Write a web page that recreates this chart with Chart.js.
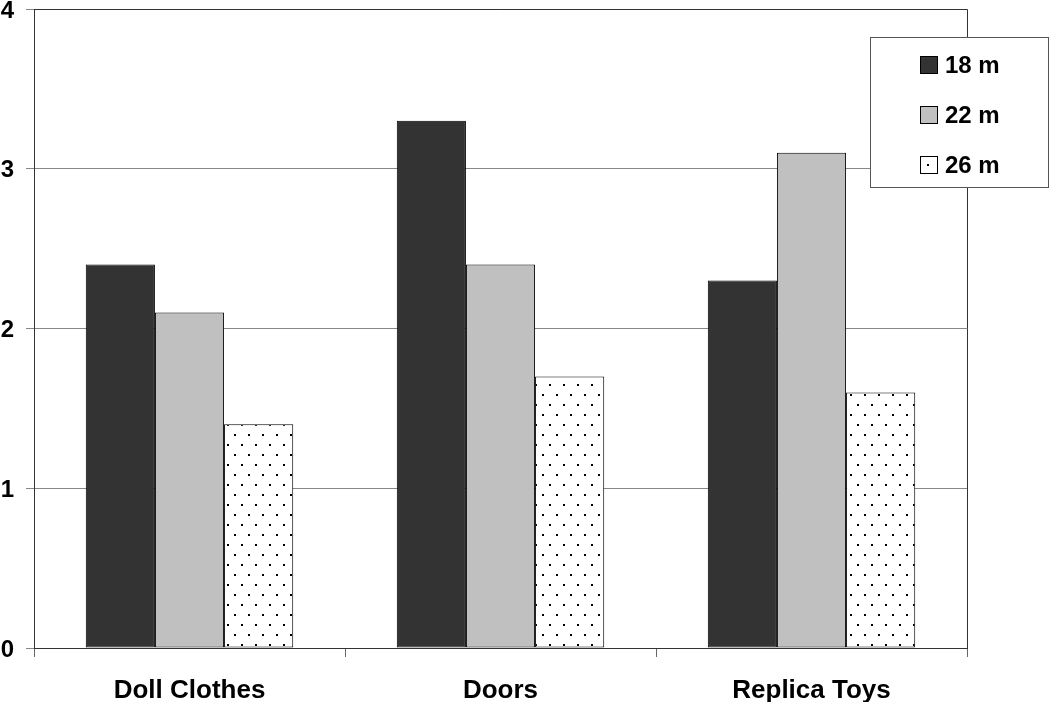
<!DOCTYPE html>
<html>
<head>
<meta charset="utf-8">
<script src="https://cdn.jsdelivr.net/npm/chart.js@4/dist/chart.umd.min.js"></script>
<style>
  html, body { margin: 0; padding: 0; background: #fff; }
  #wrap { width: 1050px; height: 702px; }
</style>
</head>
<body>
<div id="wrap"><canvas id="barChart"></canvas></div>
<script>
const categories = ["Doll Clothes", "Doors", "Replica Toys"];
const seriesLabels = ["18 m", "22 m", "26 m"];
const values18 = [2.4, 3.3, 2.3];
const values22 = [2.1, 2.4, 3.1];
const values26 = [1.4, 1.7, 1.6];
const yTicks = [0, 1, 2, 3, 4];

const FONT = "'Liberation Sans', Arial, sans-serif";

// dotted fill for the third series
function makeDots() {
  const c = document.createElement("canvas");
  c.width = 14;
  c.height = 20;
  const g = c.getContext("2d");
  g.fillStyle = "#fff";
  g.fillRect(0, 0, 14, 20);
  g.fillStyle = "#000";
  g.fillRect(3, 4, 2, 2);
  g.fillRect(10, 14, 2, 2);
  return g.createPattern(c, "repeat");
}
const dots = makeDots();

// frame on top/right of the plot + boxed legend
const framePlugin = {
  id: "frame",
  afterDraw(chart) {
    const { ctx, chartArea: a } = chart;
    ctx.save();
    ctx.strokeStyle = "#333";
    ctx.lineWidth = 1;
    ctx.beginPath();
    ctx.moveTo(a.left, a.top + 0.5);
    ctx.lineTo(a.right + 0.5, a.top + 0.5);
    ctx.lineTo(a.right + 0.5, a.bottom);
    ctx.stroke();

    // legend
    const lx = 870, ly = 37, lw = 179, lh = 151;
    ctx.fillStyle = "#fff";
    ctx.fillRect(lx, ly, lw, lh);
    ctx.strokeStyle = "#555";
    ctx.strokeRect(lx + 0.5, ly + 0.5, lw - 1, lh - 1);
    ctx.font = "bold 24px " + FONT;
    ctx.textBaseline = "middle";
    chart.data.datasets.forEach((ds, i) => {
      const cy = 65 + i * 50;
      ctx.fillStyle = ds.backgroundColor;
      ctx.fillRect(920, cy - 9, 18, 18);
      ctx.strokeStyle = "#000";
      ctx.strokeRect(920.5, cy - 8.5, 17, 17);
      ctx.fillStyle = "#000";
      ctx.fillText(ds.label, 945, cy + 1);
    });
    ctx.restore();
  },
};

new Chart(document.getElementById("barChart"), {
  type: "bar",
  data: {
    labels: categories,
    datasets: [
      { label: seriesLabels[0], data: values18, backgroundColor: "#333333" },
      { label: seriesLabels[1], data: values22, backgroundColor: "#c0c0c0" },
      { label: seriesLabels[2], data: values26, backgroundColor: dots },
    ].map((d) => Object.assign(d, {
      borderColor: "#000",
      borderWidth: 1,
      borderSkipped: false,
      barPercentage: 1,
      categoryPercentage: 0.667,
    })),
  },
  options: {
    animation: false,
    responsive: true,
    maintainAspectRatio: false,
    layout: { padding: { left: 0, top: 9, right: 83, bottom: 0 } },
    plugins: {
      legend: { display: false },
      tooltip: { enabled: false },
    },
    scales: {
      x: {
        grid: {
          offset: true,
          drawOnChartArea: false,
          drawTicks: true,
          tickLength: 9,
          color: "#666",
        },
        border: { color: "#333", width: 1 },
        ticks: {
          color: "#000",
          padding: 18,
          font: { family: FONT, size: 26, weight: "bold" },
        },
        afterFit(scale) {
          scale.height = 54;
          scale.paddingLeft = 0;
          scale.paddingRight = 0;
        },
      },
      y: {
        min: 0,
        max: 4,
        afterBuildTicks(scale) {
          scale.ticks = yTicks.map((v) => ({ value: v }));
        },
        grid: {
          color: "#888",
          tickLength: 8,
          drawTicks: true,
        },
        border: { color: "#333", width: 1 },
        ticks: {
          color: "#000",
          padding: 12,
          labelOffset: 2,
          font: { family: FONT, size: 24, weight: "bold" },
        },
        afterFit(scale) {
          scale.width = 34;
          scale.paddingTop = 0;
          scale.paddingBottom = 0;
        },
      },
    },
  },
  plugins: [framePlugin],
});
</script>
</body>
</html>
